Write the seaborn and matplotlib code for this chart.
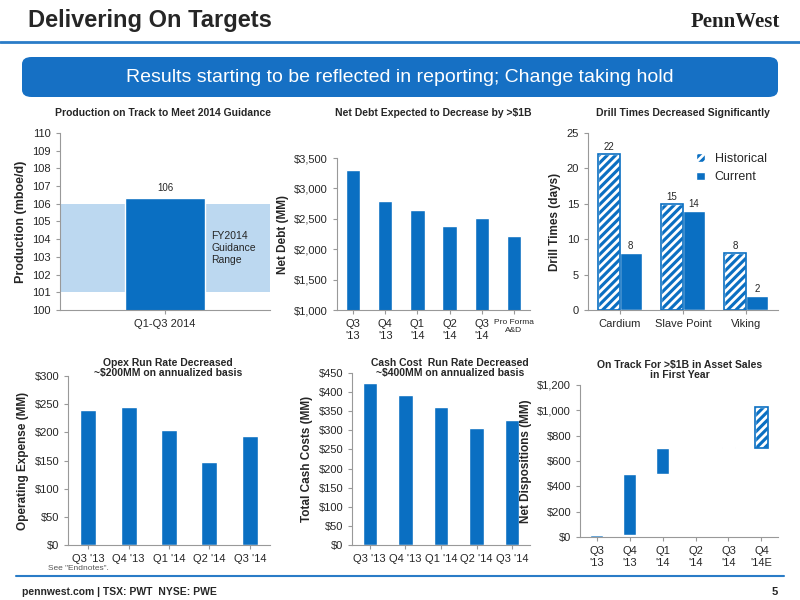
import matplotlib
matplotlib.use("Agg")
import matplotlib.pyplot as plt
import seaborn as sns
import pandas as pd
from matplotlib.patches import FancyBboxPatch, Rectangle

sns.set_style("white")
plt.rcParams['font.family'] = ['Liberation Sans', 'DejaVu Sans']
plt.rcParams['hatch.color'] = 'white'
plt.rcParams['hatch.linewidth'] = 2.0

BLUE = "#0A6FC2"
LIGHT = "#BCD8F0"

prod_cat = ["Q1-Q3 2014"]
prod_val = [106.3]
guid_lo, guid_hi = 101, 106

debt_cat = ["Q3\n'13", "Q4\n'13", "Q1\n'14", "Q2\n'14", "Q3\n'14", "Pro Forma\nA&D"]
debt_val = [3300, 2800, 2650, 2380, 2520, 2210]

drill_cat = ["Cardium", "Slave Point", "Viking"]
drill_hist = [22, 15, 8]
drill_curr = [8, 14, 2]

opex_cat = ["Q3 '13", "Q4 '13", "Q1 '14", "Q2 '14", "Q3 '14"]
opex_val = [240, 245, 205, 148, 193]

cash_cat = ["Q3 '13", "Q4 '13", "Q1 '14", "Q2 '14", "Q3 '14"]
cash_val = [423, 392, 360, 305, 327]

disp_cat = ["Q3\n'13", "Q4\n'13", "Q1\n'14", "Q2\n'14", "Q3\n'14", "Q4\n'14E"]
disp_bottom = [0, 15, 495, 705, 705, 705]
disp_height = [15, 480, 210, 0, 4, 320]

W, H = 800, 600
fig = plt.figure(figsize=(8, 6), dpi=100)

def ax_px(x0, y0, x1, y1):
    return fig.add_axes([x0 / W, 1 - y1 / H, (x1 - x0) / W, (y1 - y0) / H])

def title(x, y, s):
    fig.text(x / W, 1 - y / H, s, fontsize=7.5, fontweight="bold", ha="center", va="center", linespacing=1.1)

def style(ax):
    for s in ["top", "right"]:
        ax.spines[s].set_visible(False)
    for s in ["left", "bottom"]:
        ax.spines[s].set_color("#999999")
    ax.tick_params(labelsize=8, length=3, color="#999999", left=True, bottom=True)
    ax.set_xlabel("")

def outline(ax, patches):
    for p in patches:
        ax.add_patch(Rectangle((p.get_x(), p.get_y()), p.get_width(), p.get_height(),
                               fill=False, edgecolor=BLUE, lw=1.2, zorder=5))

# header
fig.text(28 / W, 1 - 20 / H, "Delivering On Targets", fontsize=17, fontweight="bold", va="center")
fig.text(780 / W, 1 - 22 / H, "PennWest", fontsize=15, fontweight="bold", family="Liberation Serif", ha="right", va="center", color="#222222")
fig.add_artist(plt.Line2D([0, 1], [1 - 42 / H] * 2, color="#2A7CC7", lw=2))
fig.add_artist(FancyBboxPatch((22 / W, 1 - 97 / H), 756 / W, 40 / H, boxstyle="round,pad=0,rounding_size=0.012",
                              transform=fig.transFigure, facecolor="#1670C4", edgecolor="none"))
fig.text(0.5, 1 - 77 / H, "Results starting to be reflected in reporting; Change taking hold", color="white",
         fontsize=14, ha="center", va="center")
fig.add_artist(plt.Line2D([0.02, 0.98], [1 - 576 / H] * 2, color="#2A7CC7", lw=1.5))
fig.text(22 / W, 1 - 592 / H, "pennwest.com | TSX: PWT  NYSE: PWE", fontsize=7.5, fontweight="bold", va="center")
fig.text(778 / W, 1 - 592 / H, "5", fontsize=8, fontweight="bold", ha="right", va="center")
fig.text(48 / W, 1 - 569 / H, "See \"Endnotes\".", fontsize=6, color="#555555", va="center")

# chart 1
ax = ax_px(60, 133, 270, 310)
ax.add_patch(Rectangle((-0.5, guid_lo), 1.0, guid_hi - guid_lo, facecolor=LIGHT, edgecolor="none", zorder=0))
sns.barplot(x=prod_cat, y=prod_val, color=BLUE, width=0.38, ax=ax, saturation=1, zorder=2)
ax.set_ylim(100, 110)
ax.set_yticks(range(100, 111))
ax.set_xlim(-0.5, 0.5)
ax.text(0, prod_val[0] + 0.3, "106", ha="center", va="bottom", fontsize=7)
ax.text(0.22, 103.5, "FY2014\nGuidance\nRange", fontsize=7.5, va="center")
ax.set_ylabel("Production (mboe/d)", fontsize=9, fontweight="bold")
title(163, 113, "Production on Track to Meet 2014 Guidance")
style(ax)

# chart 2
ax = ax_px(337, 158, 530, 310)
sns.barplot(x=debt_cat, y=debt_val, color=BLUE, width=0.45, ax=ax, saturation=1)
ax.set_ylim(1000, 3500)
ax.set_yticks(range(1000, 3501, 500))
ax.set_yticklabels([f"${v:,}" for v in range(1000, 3501, 500)])
ax.set_ylabel("Net Debt (MM)", fontsize=8.5, fontweight="bold")
title(433, 113, "Net Debt Expected to Decrease by >$1B")
style(ax)
ax.get_xticklabels()[-1].set_fontsize(6)

# chart 3
ax = ax_px(588, 133, 778, 310)
df = pd.DataFrame({"cat": drill_cat * 2, "val": drill_hist + drill_curr,
                   "series": ["Historical"] * 3 + ["Current"] * 3})
sns.barplot(data=df, x="cat", y="val", hue="series", palette=[BLUE, BLUE], ax=ax, saturation=1, width=0.7)
hist_patches = list(ax.patches[:3])
for p in hist_patches:
    p.set_hatch("////")
outline(ax, hist_patches)
for i, (h, c) in enumerate(zip(drill_hist, drill_curr)):
    ax.text(i - 0.175, h + 0.6, str(h), ha="center", fontsize=7)
    ax.text(i + 0.175, c + 0.6, str(c), ha="center", fontsize=7)
ax.set_ylim(0, 25)
ax.set_yticks(range(0, 26, 5))
ax.set_ylabel("Drill Times (days)", fontsize=8.5, fontweight="bold")
leg = ax.legend(frameon=False, fontsize=9, loc="upper right", handlelength=0.7, bbox_to_anchor=(1.0, 0.95))
leg.legend_handles[0].set_hatch("////")
title(683, 113, "Drill Times Decreased Significantly")
style(ax)

# chart 4
ax = ax_px(68, 376, 270, 545)
sns.barplot(x=opex_cat, y=opex_val, color=BLUE, width=0.4, ax=ax, saturation=1)
ax.set_ylim(0, 300)
ax.set_yticks(range(0, 301, 50))
ax.set_yticklabels([f"${v}" for v in range(0, 301, 50)])
ax.set_ylabel("Operating Expense (MM)", fontsize=8.5, fontweight="bold")
title(168, 368, "Opex Run Rate Decreased\n~$200MM on annualized basis")
style(ax)

# chart 5
ax = ax_px(352, 373, 530, 545)
sns.barplot(x=cash_cat, y=cash_val, color=BLUE, width=0.4, ax=ax, saturation=1)
ax.set_ylim(0, 450)
ax.set_yticks(range(0, 451, 50))
ax.set_yticklabels([f"${v}" for v in range(0, 451, 50)])
ax.set_ylabel("Total Cash Costs (MM)", fontsize=8.5, fontweight="bold")
title(450, 368, "Cash Cost  Run Rate Decreased\n~$400MM on annualized basis")
style(ax)

# chart 6
ax = ax_px(580, 385, 778, 537)
sns.barplot(x=disp_cat, y=disp_height, color=BLUE, width=0.4, ax=ax, saturation=1)
bars = list(ax.patches)
for p, b in zip(bars, disp_bottom):
    p.set_y(b)
bars[-1].set_hatch("////")
outline(ax, bars[-1:])
ax.set_ylim(0, 1200)
ax.set_yticks(range(0, 1201, 200))
ax.set_yticklabels([f"${v:,}" for v in range(0, 1201, 200)])
ax.set_ylabel("Net Dispositions (MM)", fontsize=8.5, fontweight="bold")
title(680, 370, "On Track For >$1B in Asset Sales\nin First Year")
style(ax)

fig.savefig("out.png", dpi=100)
